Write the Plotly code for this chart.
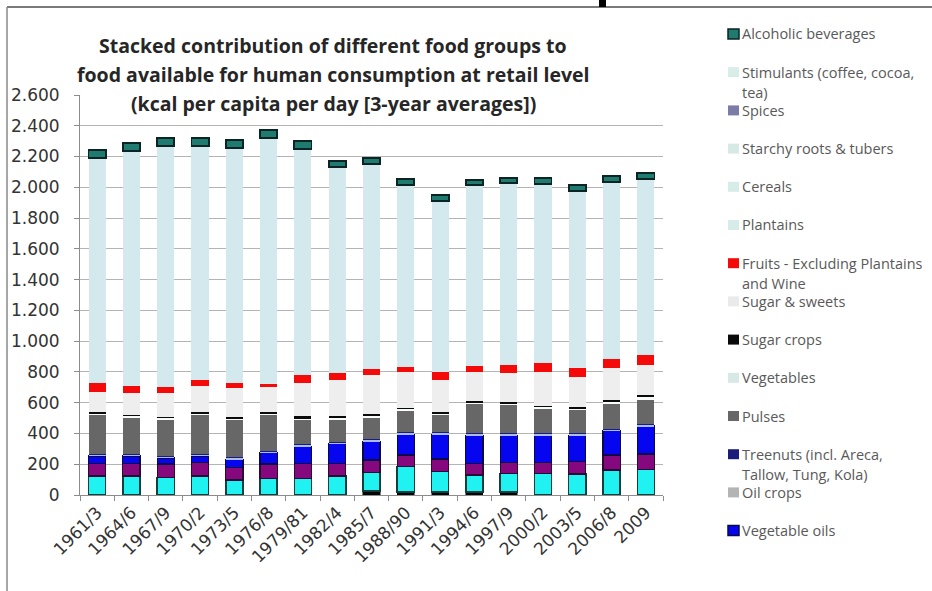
import plotly.graph_objects as go

# Three-year average periods
periods = ["1961/3", "1964/6", "1967/9", "1970/2", "1973/5", "1976/8", "1979/81",
           "1982/4", "1985/7", "1988/90", "1991/3", "1994/6", "1997/9", "2000/2",
           "2003/5", "2006/8", "2009"]

# kcal per capita per day, by food group (stacked bottom to top)
other_c = [0, 0, 0, 0, 0, 0, 0, 0, 25, 20, 20, 20, 20, 0, 0, 0, 0]
other_a = [124, 124, 115, 124, 98, 108, 108, 124, 122, 164, 132, 110, 121, 141, 137, 163, 167]
other_b = [82, 82, 86, 86, 82, 93, 98, 82, 80, 76, 82, 76, 71, 71, 80, 97, 99]
vegetable_oils = [48, 48, 40, 44, 53, 75, 111, 129, 123, 135, 161, 183, 177, 177, 172, 157, 182]
oil_crops = [8, 8, 8, 8, 8, 8, 8, 8, 8, 8, 8, 8, 8, 8, 8, 8, 8]
treenuts = [4, 4, 4, 4, 4, 4, 4, 4, 4, 4, 4, 4, 4, 4, 4, 4, 4]
pulses = [254, 239, 239, 254, 243, 232, 159, 145, 143, 141, 113, 191, 184, 163, 152, 163, 162]
vegetables = [12, 12, 12, 12, 12, 12, 12, 12, 12, 12, 12, 12, 12, 12, 12, 12, 12]
sugar_crops = [5, 5, 5, 10, 5, 8, 12, 12, 12, 8, 8, 8, 8, 5, 8, 15, 15]
sugar_sweets = [135, 143, 154, 167, 193, 160, 218, 234, 249, 232, 210, 188, 185, 219, 197, 209, 199]
fruits = [54, 45, 40, 39, 30, 24, 50, 43, 40, 32, 50, 38, 55, 57, 56, 56, 60]
plantains = [20, 20, 20, 20, 20, 20, 20, 20, 20, 20, 20, 20, 20, 20, 20, 20, 20]
cereals = [1351, 1416, 1455, 1410, 1417, 1483, 1359, 1227, 1222, 1073, 1001, 1064, 1070, 1054, 1040, 1040, 1036]
starchy_roots = [80, 80, 80, 80, 80, 80, 80, 80, 80, 80, 80, 80, 80, 80, 80, 80, 80]
spices = [2, 2, 2, 2, 2, 2, 2, 2, 2, 2, 2, 2, 2, 2, 2, 2, 2]
stimulants = [10, 10, 10, 10, 10, 10, 10, 10, 10, 10, 10, 10, 10, 10, 10, 10, 10]
alcoholic = [55, 50, 50, 50, 50, 55, 50, 40, 40, 35, 35, 35, 35, 35, 35, 35, 35]

y_ticks = list(range(0, 2601, 200))

# (legend label, values, fill, outline colour, outline width, listed in legend)
series = [
    ("Other (c)", other_c, "#050505", "#000000", 0.5, False),
    ("Other (a)", other_a, "#1ff2f0", "#10403e", 1.5, False),
    ("Other (b)", other_b, "#86087e", "#2a0a30", 1.2, False),
    ("Vegetable oils", vegetable_oils, "#0505f0", "#0a0a48", 1.2, True),
    ("Oil crops", oil_crops, "#a9bdf2", "#a9bdf2", 0, True),
    ("Treenuts (incl. Areca,\nTallow, Tung, Kola)", treenuts, "#1c1c7a", "#1c1c7a", 0, True),
    ("Pulses", pulses, "#676767", "#676767", 0, True),
    ("Vegetables", vegetables, "#f7fbfa", "#f7fbfa", 0, True),
    ("Sugar crops", sugar_crops, "#0a0a0a", "#0a0a0a", 0, True),
    ("Sugar & sweets", sugar_sweets, "#eeeeee", "#eeeeee", 0, True),
    ("Fruits - Excluding Plantains\nand Wine", fruits, "#f50a0a", "#f50a0a", 0, True),
    ("Plantains", plantains, "#d3e9ee", "#d3e9ee", 0, True),
    ("Cereals", cereals, "#d3e9ee", "#d3e9ee", 0, True),
    ("Starchy roots & tubers", starchy_roots, "#d3e9ee", "#d3e9ee", 0, True),
    ("Spices", spices, "#d3e9ee", "#d3e9ee", 0, True),
    ("Stimulants (coffee, cocoa,\ntea)", stimulants, "#d3e9ee", "#d3e9ee", 0, True),
    ("Alcoholic beverages", alcoholic, "#1f7a70", "#0b2525", 1.8, True),
]

# swatch colours shown in the legend column
legend_swatch = {
    "Alcoholic beverages": ("#1f7a70", "#0b2525"),
    "Stimulants (coffee, cocoa,\ntea)": ("#d8ede8", None),
    "Spices": ("#7c7ca6", None),
    "Starchy roots & tubers": ("#d6e9e5", None),
    "Cereals": ("#d6ece8", None),
    "Plantains": ("#d6ece8", None),
    "Fruits - Excluding Plantains\nand Wine": ("#f50a0a", None),
    "Sugar & sweets": ("#eaeaea", None),
    "Sugar crops": ("#0a0a0a", None),
    "Vegetables": ("#d6e9e5", None),
    "Pulses": ("#676767", None),
    "Treenuts (incl. Areca,\nTallow, Tung, Kola)": ("#1c1c7a", None),
    "Oil crops": ("#b4b4b4", None),
    "Vegetable oils": ("#0505f0", "#0a0a48"),
}

W, H = 932, 591
PL, PR, PT, PB = 80, 663, 95, 495   # plot area edges in pixels


def px(xp):
    """pixel column -> paper x"""
    return (xp - PL) / (PR - PL)


def py(yp):
    """pixel row -> paper y"""
    return (PB - yp) / (PB - PT)


fig = go.Figure()
for name, vals, fill, line_c, line_w, _ in series:
    fig.add_trace(go.Bar(
        x=periods, y=vals, name=name.replace("\n", " "),
        marker=dict(color=fill, line=dict(color=line_c, width=line_w)),
        showlegend=False,
    ))

# hand-laid legend column on the right, top of stack first
legend_items = [s for s in reversed(series) if s[5]]
shapes = []
annotations = []
for i, (name, *_rest) in enumerate(legend_items):
    yc = 34 + i * 38.2
    fill, border = legend_swatch[name]
    shapes.append(dict(
        type="rect", xref="paper", yref="paper",
        x0=px(728), x1=px(739), y0=py(yc + 5), y1=py(yc - 5),
        fillcolor=fill,
        line=dict(color=border if border else fill, width=1.5 if border else 0),
    ))
    for j, part in enumerate(name.split("\n")):
        annotations.append(dict(
            text=part, xref="paper", yref="paper",
            x=px(741), y=py(yc + j * 20.5), xanchor="left", yanchor="middle",
            showarrow=False, borderpad=0,
            font=dict(family="Open Sans", size=14.5, color="#595959"),
        ))

# chart title, three centred lines over the plot area
title_lines = ["Stacked contribution of different food groups to",
               "food available for human consumption at retail level",
               "(kcal per capita per day [3-year averages])"]
for k, line in enumerate(title_lines):
    annotations.append(dict(
        text="<b>" + line + "</b>", xref="paper", yref="paper",
        x=px(333), y=py(45 + k * 29), xanchor="center", yanchor="middle",
        showarrow=False, borderpad=0,
        font=dict(family="Open Sans", size=19.5, color="#262626"),
    ))

# outer frame of the chart
shapes.append(dict(type="line", xref="paper", yref="paper",
                   x0=px(7), x1=px(W), y0=py(7), y1=py(7),
                   line=dict(color="#7a7a7a", width=2)))
shapes.append(dict(type="line", xref="paper", yref="paper",
                   x0=px(7), x1=px(7), y0=py(7), y1=py(H),
                   line=dict(color="#8a8a8a", width=1.5)))
shapes.append(dict(type="rect", xref="paper", yref="paper",
                   x0=px(599), x1=px(606), y0=py(7), y1=py(0),
                   fillcolor="#000000", line=dict(width=0)))

fig.update_layout(
    width=W, height=H,
    margin=dict(l=PL, r=W - PR, t=PT, b=H - PB, pad=0),
    barmode="stack", bargap=0.5,
    paper_bgcolor="white", plot_bgcolor="white",
    separators=",.",
    shapes=shapes, annotations=annotations,
    showlegend=False,
    xaxis=dict(
        type="category", tickangle=-45,
        tickfont=dict(family="DejaVu Sans", size=17, color="#333333"),
        showline=True, linecolor="#8c8c8c", linewidth=1,
        ticks="outside", ticklen=5, tickcolor="#8c8c8c",
        tickson="boundaries", showgrid=False,
    ),
    yaxis=dict(
        range=[0, 2600], tickvals=y_ticks, tickformat=",d",
        tickfont=dict(family="DejaVu Sans", size=17, color="#333333"),
        showline=True, linecolor="#8c8c8c", linewidth=1,
        ticks="outside", ticklen=5, tickcolor="#8c8c8c",
        showgrid=True, gridcolor="#b4b4b4", gridwidth=1,
        zeroline=False, ticklabelstandoff=11,
    ),
)

fig.write_html("out.html")
